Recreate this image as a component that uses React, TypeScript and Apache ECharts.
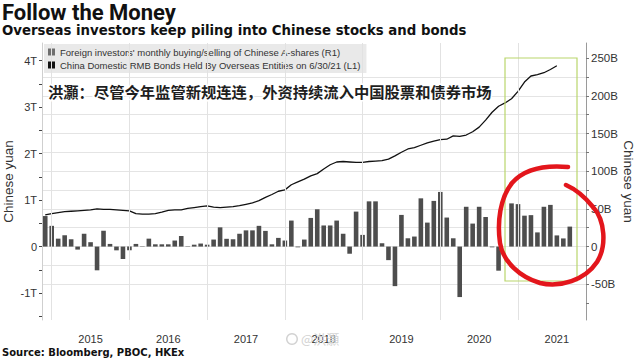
import React, { useEffect, useRef } from "react";
import * as echarts from "echarts";

// Monthly categories, Nov 2014 .. Oct 2021
const months: string[] = (() => {
  const out: string[] = [];
  let y = 2014;
  let m = 11;
  for (let i = 0; i < 84; i++) {
    out.push(`${y}-${String(m).padStart(2, "0")}`);
    m++;
    if (m > 12) { m = 1; y++; }
  }
  return out;
})();

// Foreign investors' monthly buying/selling of A-shares, billion yuan (right axis)
const aShareFlowsB = [
  40.5, 27.5, 10.5, 15, 9.7, -4, 17, 5.8, -31.5, 21, 3.5, -5,
  -16.5, -5, 3.5, -0.5, 10.5, 3, 3, 3, 8, 14, -0.5, 2.5,
  4, 2.5, 9.3, 25.5, 10.3, 9.7, 17, 21.5, 21.5, 27.5, 20.8, 3,
  11.5, 8, 34.5, -1, 9.3, 38, 49.5, 28, 28, 34.5, 17, -9.5,
  46.4, 15.5, 60, 60, 4.4, -18, -52.5, 42, 11, 13.3, 64, 31.8,
  60.6, 72.5, 38.5, 11, -67, 52.8, 30.5, 52.8, 39.2, -1, -32, 0,
  57.3, 56.3, 41, 41.7, 18.8, 52.8, 55.3, 14.8, 10.8, 26.5,
];

// China domestic RMB bonds held by overseas entities, trillion yuan (left axis)
const bondHoldingsT = [
  0.68, 0.71, 0.73, 0.75, 0.76, 0.77, 0.78, 0.79, 0.81, 0.8, 0.8, 0.79,
  0.78, 0.77, 0.71, 0.7, 0.7, 0.71, 0.74, 0.78, 0.79, 0.79, 0.82, 0.84,
  0.86, 0.875, 0.85, 0.84, 0.85, 0.86, 0.88, 0.91, 0.94, 0.99, 1.06, 1.12,
  1.19, 1.22, 1.33, 1.39, 1.45, 1.52, 1.57, 1.67, 1.76, 1.82, 1.83, 1.82,
  1.81, 1.81, 1.83, 1.84, 1.85, 1.88, 1.95, 2.03, 2.1, 2.13, 2.18, 2.23,
  2.27, 2.3, 2.31, 2.38, 2.37, 2.4, 2.47, 2.57, 2.72, 2.89, 3.02, 3.09,
  3.18, 3.34, 3.54, 3.67, 3.7, 3.74, 3.81, 3.89,
];

const leftLabelValues = [-1, 0, 1, 2, 3, 4];
const leftTickValues = [-1.5, -1, -0.5, 0, 0.5, 1, 1.5, 2, 2.5, 3, 3.5, 4];
const rightLabelValues = [-50, 0, 50, 100, 150, 200, 250];
const rightTickValues = [-75, -50, -25, 0, 25, 50, 75, 100, 125, 150, 175, 200, 225, 250];

const BAR_NAME = "Foreign investors' monthly buying/selling of Chinese A-shares (R1)";
const LINE_NAME = "China Domestic RMB Bonds Held By Overseas Entities on 6/30/21 (L1)";

const LEFT_MIN = -1.58;
const LEFT_MAX = 4.38;
const B_PER_T = 61.67;

const RED_LOOP_D =
  "M568,167 C545,165 525,168 512,183 C500,198 497,222 500,243 C503,262 520,277 540,283 C560,288 585,280 597,262 C607,246 605,220 593,207 C585,197 575,189 566,185";
echarts.graphic.registerShape("redLoop", echarts.graphic.extendPath(RED_LOOP_D, {}));

const SANS = "'Liberation Sans', Arial, sans-serif";
const HEAD = "'DejaVu Sans', 'Liberation Sans', sans-serif";

export default function App() {
  const ref = useRef<HTMLDivElement>(null);
  useEffect(() => {
    if (!ref.current) return;
    const chart = echarts.init(ref.current, null, { renderer: "svg" });
    const fmtT = (v: number) => (Math.abs(v - Math.round(v)) < 1e-6 ? (Math.round(v) === 0 ? "0" : `${Math.round(v)}T`) : "");
    const fmtB = (v: number) => (Math.abs(v % 50) < 1e-6 ? (v === 0 ? "0" : `${v}B`) : "");
    chart.setOption({
      animation: false,
      backgroundColor: "#ffffff",
      grid: { left: 42, right: 54, top: 43, bottom: 40, containLabel: false, outerBoundsMode: "none" },
      legend: {
        orient: "vertical",
        left: 44,
        top: 44,
        padding: [3, 6, 3, 4],
        itemGap: 3,
        itemWidth: 7,
        itemHeight: 7,
        backgroundColor: "#e9e9e9",
        textStyle: { fontSize: 9.5, color: "#333", fontFamily: SANS },
        data: [
          { name: BAR_NAME, icon: "rect", itemStyle: { color: "#6e6e6e" } },
          { name: LINE_NAME, icon: "rect", itemStyle: { color: "#111" } },
        ],
      },
      xAxis: [
        {
          type: "category",
          data: months,
          boundaryGap: true,
          axisLine: { show: false },
          axisTick: { show: false },
          splitLine: { show: false },
          axisLabel: {
            interval: (_i: number, v: string) => v.endsWith("-06"),
            formatter: (v: string) => v.slice(0, 4),
            margin: 13,
            fontSize: 11,
            color: "#333",
            fontFamily: SANS,
          },
        },
      ],
      yAxis: [
        {
          type: "value",
          position: "left",
          min: LEFT_MIN,
          max: LEFT_MAX,
          name: "Chinese yuan",
          nameLocation: "middle",
          nameGap: 27,
          nameMoveOverlap: false,
          nameTextStyle: { fontSize: 13.5, lineHeight: 14, color: "#333", fontFamily: SANS },
          axisLine: { show: true, lineStyle: { color: "#cfcfcf" } },
          axisTick: { show: true, length: 3, customValues: leftTickValues, lineStyle: { color: "#444" } },
          axisLabel: { customValues: leftLabelValues, formatter: fmtT, margin: 5, fontSize: 11, color: "#333", fontFamily: SANS },
          splitLine: { show: false },
        },
        {
          type: "value",
          position: "right",
          min: LEFT_MIN * B_PER_T,
          max: LEFT_MAX * B_PER_T,
          splitNumber: 7,
          name: "Chinese yuan",
          nameLocation: "middle",
          nameRotate: -90,
          nameGap: 35,
          nameMoveOverlap: false,
          nameTextStyle: { fontSize: 13.5, lineHeight: 14, color: "#333", fontFamily: SANS },
          axisLine: { show: true, lineStyle: { color: "#9a9a9a" } },
          axisTick: { show: true, length: 3, customValues: rightTickValues, lineStyle: { color: "#777" } },
          axisLabel: { customValues: rightLabelValues, formatter: fmtB, margin: 5, fontSize: 11.5, color: "#333", fontFamily: SANS },
          splitLine: { show: true, showMinLine: false, showMaxLine: false, lineStyle: { color: "#e4e4e4" } },
        },
      ],
      series: [
        {
          name: "yearGrid",
          type: "line",
          data: [],
          silent: true,
          z: 0,
          markLine: {
            silent: true,
            symbol: ["none", "none"],
            label: { show: false },
            lineStyle: { color: "#e2e2e2", type: "solid", width: 1 },
            data: months.filter((m) => m.endsWith("-12")).map((m) => ({ xAxis: m })),
          },
        },
        {
          name: BAR_NAME,
          type: "bar",
          yAxisIndex: 1,
          data: aShareFlowsB,
          barWidth: 4.6,
          itemStyle: { color: "#4d4d4d" },
        },
        {
          name: LINE_NAME,
          type: "line",
          yAxisIndex: 0,
          data: bondHoldingsT,
          symbol: "none",
          lineStyle: { color: "#111", width: 1.3 },
          z: 3,
        },
      ],
      graphic: [
        { type: "text", x: 2, y: 1, style: { text: "Follow the Money", font: "bold 22px Roboto, 'Liberation Sans', sans-serif", fill: "#111" } },
        { type: "text", x: 2, y: 24, style: { text: "Overseas investors keep piling into Chinese stocks and bonds", font: `bold 13.3px ${HEAD}`, fill: "#111" } },
        {
          type: "text", x: 48, y: 91, z: 50,
          style: {
            text: "洪灝：尽管今年监管新规连连，外资持续流入中国股票和债券市场",
            font: "bold 15.3px 'Noto Sans CJK SC', sans-serif",
            fill: "#1e1e1e",
            stroke: "#ffffff",
            lineWidth: 3,
            textVerticalAlign: "middle",
          },
        },
        { type: "rect", z: 40, shape: { x: 505, y: 58, width: 72, height: 223 }, style: { fill: "none", stroke: "#b9d66c", lineWidth: 1.2 } },
        { type: "redLoop", x: 0, y: 0, z: 60, style: { fill: "none", stroke: "#e3161c", lineWidth: 4.5, lineCap: "round" } },
        { type: "text", x: 2, y: 347, style: { text: "Source: Bloomberg, PBOC, HKEx", font: `bold 10px ${HEAD}`, fill: "#111" } },
        { type: "ring", z: 30, shape: { cx: 292, cy: 339, r: 6, r0: 4.5 }, style: { fill: "#d2d2d2" } },
        { type: "text", x: 301, y: 332, z: 30, style: { text: "@洪灝", font: "13px 'Noto Sans CJK SC', sans-serif", fill: "#d2d2d2" } },
      ],
    });
    return () => chart.dispose();
  }, []);
  return <div ref={ref} style={{ position: "fixed", left: 0, top: 0, width: 640, height: 360 }} />;
}
